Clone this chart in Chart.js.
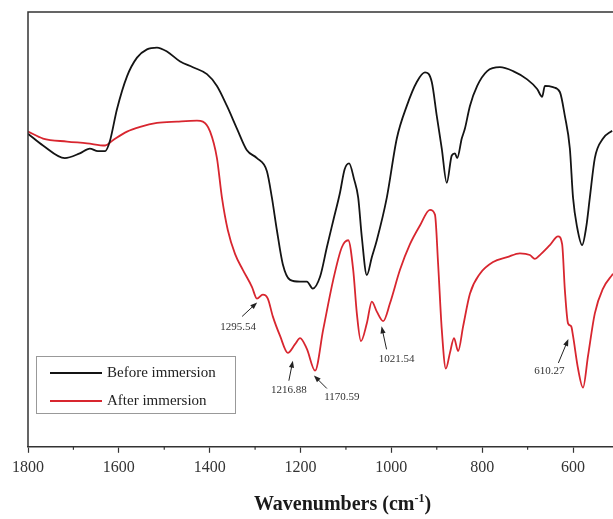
<!DOCTYPE html>
<html>
<head>
<meta charset="utf-8">
<script src="https://cdn.jsdelivr.net/npm/chart.js@4.4.1/dist/chart.umd.min.js"></script>
<style>
html, body { margin: 0; padding: 0; background: #fff; }
#wrap { position: relative; width: 613px; height: 519px; }
</style>
</head>
<body>
<div id="wrap"><canvas id="ftirChart"></canvas></div>
<script>
// FTIR spectra, transmittance in arbitrary units (0 = bottom of frame, 100 = top)
const seriesNames = ['Before immersion', 'After immersion'];

const beforeWn = [1800, 1767, 1719, 1686, 1664, 1646, 1630, 1620, 1604, 1582, 1560, 1538, 1516, 1494,
    1465, 1437, 1406, 1384, 1362, 1340, 1318, 1296, 1274, 1263, 1252, 1239, 1223, 1201, 1186, 1173,
    1157, 1142, 1128, 1113, 1103, 1093, 1082, 1073, 1065, 1054, 1043, 1032, 1010, 988, 966, 944, 926,
    911, 900, 889, 878, 867, 860, 855, 845, 838, 827, 811, 789, 761, 732, 701, 679, 668, 662, 644,
    629, 618, 607, 600, 591, 580, 571, 563, 552, 534, 514];
const beforeT = [72.0, 69.3, 66.4, 67.5, 68.6, 68.0, 68.0, 70.2, 77.7, 85.2, 89.5, 91.4, 91.8, 90.9,
    88.6, 87.3, 85.7, 83.0, 78.4, 73.2, 68.2, 66.4, 63.4, 57.3, 49.8, 42.0, 38.4, 38.0, 38.0, 36.4,
    39.1, 45.9, 52.0, 58.5, 63.8, 65.2, 61.5, 57.3, 48.2, 39.5, 43.6, 47.5, 57.3, 70.9, 78.4, 83.9, 86.1,
    83.9, 76.1, 68.6, 60.7, 67.0, 67.5, 66.4, 70.9, 73.2, 78.4, 83.0, 86.4, 87.3, 86.4, 84.5, 82.3, 80.5, 83.0, 82.7,
    81.6, 76.1, 68.6, 57.3, 50.5, 46.4, 50.5, 57.3, 66.4, 70.9, 72.7];

const afterWn = [1800, 1767, 1714, 1670, 1630, 1613, 1582, 1553, 1516, 1472, 1428, 1415, 1399, 1384,
    1373, 1360, 1344, 1327, 1307, 1296, 1283, 1272, 1261, 1245, 1228, 1212, 1201, 1186, 1168, 1150,
    1128, 1109, 1095, 1084, 1076, 1067, 1054, 1043, 1032, 1018, 1003, 981, 959, 937, 915, 904, 897,
    889, 880, 871, 862, 853, 842, 827, 805, 776, 745, 717, 695, 684, 673, 651, 633, 624, 618, 611,
    604, 600, 589, 578, 567, 552, 534, 512];
const afterT = [72.5, 70.9, 70.2, 69.8, 69.3, 70.5, 72.5, 73.6, 74.5, 74.8, 75.0, 74.8, 72.5, 66.4,
    57.3, 49.8, 44.3, 40.7, 36.8, 34.1, 35.0, 34.1, 30.0, 25.5, 21.6, 23.6, 25.0, 22.5, 17.5, 27.0,
    38.4, 45.9, 47.5, 40.7, 30.7, 24.3, 28.4, 33.4, 31.1, 28.9, 33.0, 40.7, 46.6, 50.9, 54.5, 53.4, 42.0,
    27.0, 18.0, 21.6, 25.0, 22.0, 27.7, 35.2, 39.8, 42.5, 43.6, 44.5, 44.1, 43.2, 44.1, 46.4, 48.4, 46.6, 36.1, 28.4,
    27.7, 25.5, 18.0, 13.6, 20.9, 30.7, 36.4, 39.8];

// labelled peaks of the red spectrum and where the arrow tip sits
const peakLabels = ['1295.54', '1216.88', '1170.59', '1021.54', '610.27'];
const peakWn = [1295.54, 1216.88, 1170.59, 1021.54, 610.27];
const peakTipT = [33.2, 19.8, 16.4, 27.7, 24.8];

const majorTicks = [1800, 1600, 1400, 1200, 1000, 800, 600];
const minorTicks = [1700, 1500, 1300, 1100, 900, 700];

const seriesColors = ['#141414', '#d8262f'];
// pixel offsets of arrow tail and label centre, relative to the tip
const arrowStyle = [
    { tail: [-15, 14], text: [-19, 25] },
    { tail: [-4, 20], text: [-4, 29] },
    { tail: [13, 13], text: [28, 22] },
    { tail: [5, 23], text: [15, 33] },
    { tail: [-10, 24], text: [-19, 32] }
];

const serif = '"Liberation Serif", "Times New Roman", serif';

function toPoints(xs, ys) {
    return xs.map((x, i) => ({ x: x, y: ys[i] }));
}

function drawArrow(ctx, x0, y0, x1, y1) {
    const ang = Math.atan2(y1 - y0, x1 - x0);
    const head = 7;
    ctx.beginPath();
    ctx.moveTo(x0, y0);
    ctx.lineTo(x1 - Math.cos(ang) * head * 0.8, y1 - Math.sin(ang) * head * 0.8);
    ctx.stroke();
    ctx.beginPath();
    ctx.moveTo(x1, y1);
    ctx.lineTo(x1 - head * Math.cos(ang) + 2.6 * Math.sin(ang), y1 - head * Math.sin(ang) - 2.6 * Math.cos(ang));
    ctx.lineTo(x1 - head * Math.cos(ang) - 2.6 * Math.sin(ang), y1 - head * Math.sin(ang) + 2.6 * Math.cos(ang));
    ctx.closePath();
    ctx.fill();
}

const framePlugin = {
    id: 'frame',
    afterDraw(chart) {
        const ctx = chart.ctx;
        const a = chart.chartArea;
        const xs = chart.scales.x;
        const ys = chart.scales.y;
        ctx.save();

        // left and top frame lines
        ctx.strokeStyle = '#333';
        ctx.lineWidth = 1.5;
        ctx.beginPath();
        ctx.moveTo(a.left, a.bottom);
        ctx.lineTo(a.left, a.top);
        ctx.lineTo(a.right, a.top);
        ctx.stroke();

        // minor ticks
        ctx.lineWidth = 1.2;
        minorTicks.forEach(v => {
            const px = xs.getPixelForValue(v);
            ctx.beginPath();
            ctx.moveTo(px, a.bottom);
            ctx.lineTo(px, a.bottom + 3);
            ctx.stroke();
        });

        // peak annotations
        ctx.strokeStyle = '#222';
        ctx.fillStyle = '#222';
        ctx.lineWidth = 1;
        ctx.font = '11px ' + serif;
        ctx.textAlign = 'center';
        ctx.textBaseline = 'middle';
        peakLabels.forEach((lab, i) => {
            const tx = xs.getPixelForValue(peakWn[i]);
            const ty = ys.getPixelForValue(peakTipT[i]);
            const st = arrowStyle[i];
            drawArrow(ctx, tx + st.tail[0], ty + st.tail[1], tx, ty);
            ctx.fillStyle = '#333';
            ctx.fillText(lab, tx + st.text[0], ty + st.text[1]);
            ctx.fillStyle = '#222';
        });

        // legend box
        const lx = a.left + 8, ly = 356, lw = 199, lh = 57;
        ctx.strokeStyle = '#999';
        ctx.lineWidth = 1;
        ctx.strokeRect(lx + 0.5, ly + 0.5, lw, lh);
        ctx.font = '15px ' + serif;
        ctx.textAlign = 'left';
        ctx.textBaseline = 'middle';
        seriesNames.forEach((name, i) => {
            const yy = ly + 17 + i * 28;
            ctx.strokeStyle = seriesColors[i];
            ctx.lineWidth = 2;
            ctx.beginPath();
            ctx.moveTo(lx + 14, yy);
            ctx.lineTo(lx + 66, yy);
            ctx.stroke();
            ctx.fillStyle = '#222';
            ctx.fillText(name, lx + 71, yy);
        });

        // axis title with superscript
        const main = 'Wavenumbers (cm';
        const sup = '-1';
        const close = ')';
        ctx.fillStyle = '#1a1a1a';
        ctx.font = 'bold 20px ' + serif;
        const w1 = ctx.measureText(main).width;
        const w3 = ctx.measureText(close).width;
        ctx.font = 'bold 12px ' + serif;
        const w2 = ctx.measureText(sup).width;
        const total = w1 + w2 + w3;
        const cx = (a.left + a.right) / 2 + 22;
        let x = cx - total / 2;
        const base = 510;
        ctx.textBaseline = 'alphabetic';
        ctx.font = 'bold 20px ' + serif;
        ctx.fillText(main, x, base);
        x += w1;
        ctx.font = 'bold 12px ' + serif;
        ctx.fillText(sup, x, base - 8);
        x += w2;
        ctx.font = 'bold 20px ' + serif;
        ctx.fillText(close, x, base);

        ctx.restore();
    }
};

const ctx = document.getElementById('ftirChart').getContext('2d');
new Chart(ctx, {
    type: 'line',
    data: {
        datasets: [
            {
                label: seriesNames[0],
                data: toPoints(beforeWn, beforeT),
                borderColor: seriesColors[0],
                borderWidth: 1.8,
                pointRadius: 0,
                tension: 0.4,
                cubicInterpolationMode: 'monotone',
                fill: false
            },
            {
                label: seriesNames[1],
                data: toPoints(afterWn, afterT),
                borderColor: seriesColors[1],
                borderWidth: 1.8,
                pointRadius: 0,
                tension: 0.4,
                cubicInterpolationMode: 'monotone',
                fill: false
            }
        ]
    },
    options: {
        responsive: true,
        maintainAspectRatio: false,
        animation: false,
        layout: { padding: { left: 28, top: 12, right: 0, bottom: 37 } },
        scales: {
            x: {
                type: 'linear',
                reverse: true,
                min: 512,
                max: 1800,
                afterBuildTicks: scale => { scale.ticks = majorTicks.map(v => ({ value: v })); },
                border: { display: true, color: '#333', width: 1.5 },
                grid: { drawOnChartArea: false, drawTicks: true, tickLength: 6, tickColor: '#333', tickWidth: 1.2 },
                ticks: {
                    color: '#333',
                    font: { family: serif, size: 16 },
                    padding: 5,
                    maxRotation: 0,
                    autoSkip: false,
                    callback: v => String(v)
                }
            },
            y: {
                display: false,
                min: 0,
                max: 100
            }
        },
        plugins: {
            legend: { display: false },
            tooltip: { enabled: false }
        }
    },
    plugins: [framePlugin]
});
</script>
</body>
</html>
